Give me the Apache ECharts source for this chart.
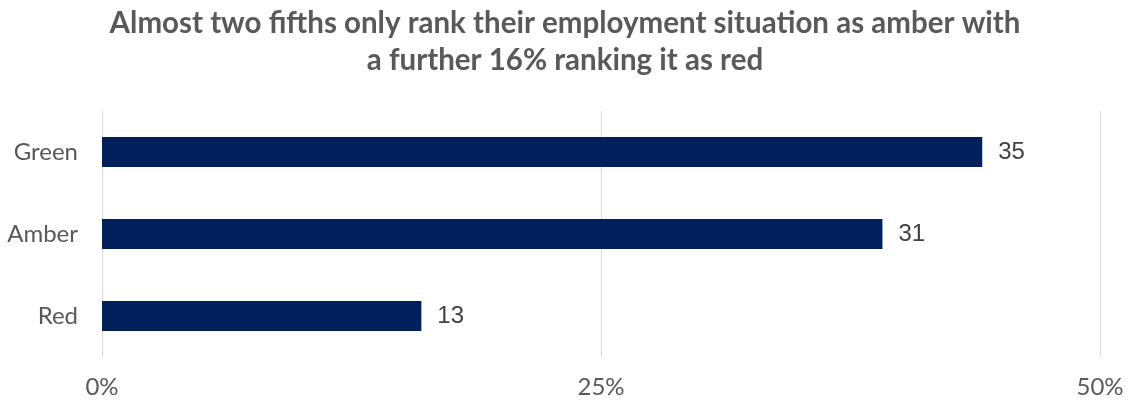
<!DOCTYPE html>
<html><head><meta charset="utf-8">
<script src="https://cdn.jsdelivr.net/npm/echarts@6/dist/echarts.min.js"></script>
<style>html,body{margin:0;padding:0;background:#fff}#c{width:1130px;height:403px}</style>
</head><body><div id="c"></div>
<script>
const categories = ['Green', 'Amber', 'Red'];
const values = [44.1, 39.1, 16.0];
const valueLabels = ['35', '31', '13'];
const tickLabels = ['0%', '25%', '50%'];
const titleText = 'Almost two fifths only rank their employment situation as amber with\na further 16% ranking it as red';

const chart = echarts.init(document.getElementById('c'), null, {renderer: 'canvas'});
chart.setOption({
  animation: false,
  title: {
    text: titleText, left: 'center', top: 5, padding: [0, 0, 0, 14],
    textStyle: {fontFamily: 'Lato', fontWeight: 'bold', fontSize: 29.5, color: '#595959', lineHeight: 37}
  },
  grid: {left: 102, right: 30, top: 111, bottom: 46, containLabel: false},
  xAxis: {
    type: 'value', min: 0, max: 50, interval: 25,
    axisLine: {show: false}, axisTick: {show: false},
    splitLine: {lineStyle: {color: '#d9d9d9', width: 1}},
    axisLabel: {
      margin: 18, fontFamily: 'Lato', fontSize: 24, color: '#595959',
      formatter: v => tickLabels[Math.round(v / 25)]
    }
  },
  yAxis: {
    type: 'category', data: categories, inverse: true,
    axisLine: {show: true, lineStyle: {color: '#d9d9d9', width: 1}},
    axisTick: {show: false},
    axisLabel: {margin: 24, fontFamily: 'Lato', fontSize: 24, color: '#595959'}
  },
  series: [{
    type: 'bar', data: values, barWidth: 30,
    itemStyle: {color: '#001f5b'},
    label: {
      show: true, position: 'right', distance: 16,
      fontFamily: 'Liberation Sans', fontSize: 24, color: '#404040',
      formatter: p => valueLabels[p.dataIndex]
    }
  }]
});
</script></body></html>
